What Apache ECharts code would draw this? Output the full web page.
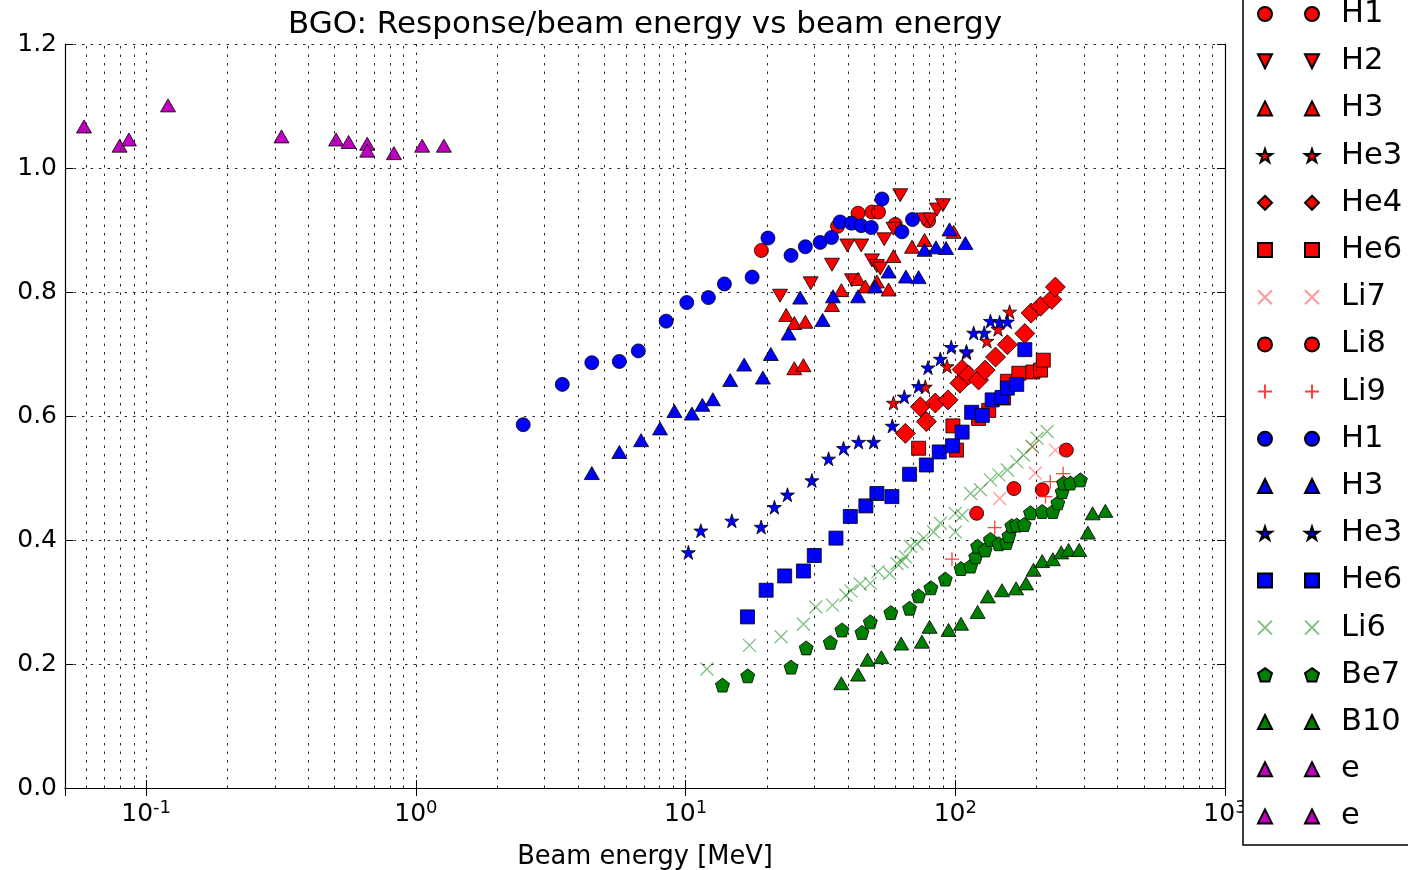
<!DOCTYPE html>
<html><head><meta charset="utf-8">
<script src="https://cdn.jsdelivr.net/npm/echarts@6/dist/echarts.min.js"></script>
<style>html,body{margin:0;padding:0;background:#fff}#c{width:1408px;height:870px}</style>
</head><body><div id="c"></div>
<script>
// ---------------- data (beam energy [MeV], response/beam energy) ----------------
const h1Red = [[19.1,0.867],[36.6,0.906],[43.6,0.927],[49.1,0.929],[51.9,0.929],[59.9,0.909],[79.6,0.915]];
const h2Red = [[22.4,0.794],[29.1,0.814],[34.9,0.844],[39.8,0.875],[44.8,0.875],[41.4,0.819],[49.1,0.851],[51.2,0.842],[52.7,0.838],[54.5,0.885],[59.0,0.902],[62.5,0.956],[76.3,0.917],[80.8,0.917],[85.5,0.933],[90.0,0.940]];
const h3Red = [[23.6,0.763],[25.3,0.750],[27.8,0.752],[25.3,0.677],[27.35,0.682],[34.9,0.779],[37.8,0.803],[43.6,0.821],[46.4,0.809],[51.2,0.817],[56.6,0.804],[59.0,0.858],[69.1,0.873],[76.9,0.884],[98.6,0.897]];
const he3Red = [[59.0,0.621],[77.4,0.647],[93.2,0.680],[110,0.702],[131,0.721],[144,0.740],[159,0.768]];
const he4Red = [[65.3,0.572],[78.1,0.591],[74.2,0.615],[84.3,0.621],[94.0,0.626],[104,0.653],[106,0.675],[112,0.666],[122,0.658],[129,0.674],[141,0.695],[156,0.715],[181,0.733],[191,0.766],[207,0.777],[228,0.788],[235,0.808]];
const he6Red = [[73.1,0.548],[98.0,0.584],[101,0.545],[122,0.596],[133,0.609],[151,0.629],[156,0.656],[172,0.669],[194,0.671],[207,0.674],[212,0.690]];
const li7Red = [[146,0.467],[198,0.508],[193,0.550],[235,0.545]];
const li8Red = [[120,0.443],[165,0.483],[210,0.481],[258,0.545]];
const li9Red = [[97.2,0.369],[140,0.420],[216,0.470],[225,0.494],[251,0.507]];
const h1Blue = [[2.50,0.586],[3.49,0.651],[4.49,0.686],[5.68,0.688],[6.68,0.705],[8.47,0.753],[10.1,0.783],[12.15,0.791],[13.93,0.813],[17.65,0.824],[20.2,0.887],[24.6,0.859],[27.8,0.873],[31.55,0.880],[34.75,0.888],[37.4,0.913],[41.2,0.911],[44.8,0.907],[48.8,0.904],[53.5,0.950],[63.4,0.897],[69.4,0.917]];
const h3Blue = [[4.49,0.508],[5.68,0.542],[6.84,0.561],[8.04,0.580],[9.09,0.608],[10.55,0.604],[11.54,0.618],[12.62,0.627],[14.63,0.658],[16.49,0.683],[19.34,0.662],[20.7,0.700],[24.1,0.733],[26.6,0.791],[32.2,0.755],[35.2,0.793],[43.6,0.793],[50.5,0.809],[56.6,0.833],[65.6,0.825],[73.1,0.824],[76.9,0.868],[84.8,0.872],[92.4,0.871],[95.2,0.901],[109,0.879]];
const he3Blue = [[10.24,0.380],[11.39,0.415],[14.84,0.431],[19.06,0.421],[21.35,0.453],[23.86,0.473],[29.4,0.496],[33.9,0.531],[38.5,0.548],[43.8,0.558],[49.8,0.558],[58.4,0.584],[64.7,0.631],[73.1,0.648],[79.2,0.678],[88.0,0.692],[96.6,0.711],[110,0.704],[117,0.734],[128,0.734],[135,0.753],[146,0.751],[156,0.752]];
const he6Blue = [[16.96,0.276],[19.89,0.319],[23.3,0.342],[27.35,0.350],[30.0,0.375],[36.1,0.403],[40.8,0.438],[46.6,0.455],[51.2,0.475],[58.2,0.470],[67.7,0.506],[78.1,0.521],[87.2,0.542],[97.7,0.552],[106,0.574],[115,0.606],[126,0.601],[137,0.626],[149,0.630],[156,0.645],[169,0.651],[181,0.707]];
const li6Green = [[12.0,0.192],[17.25,0.230],[22.6,0.244],[27.35,0.264],[30.4,0.292],[35.05,0.295],[39.3,0.311],[41.0,0.318],[44.4,0.329],[48.4,0.330],[51.7,0.349],[57.1,0.346],[60.8,0.362],[63.4,0.365],[65.3,0.373],[68.1,0.390],[72.1,0.394],[76.3,0.403],[83.1,0.413],[88.0,0.427],[100,0.443],[100,0.413],[106,0.440],[114,0.475],[124,0.481],[135,0.497],[145,0.505],[156,0.513],[169,0.526],[179,0.537],[193,0.551],[201,0.564],[219,0.575]];
const be7Green = [[13.7,0.166],[17.0,0.181],[24.6,0.195],[28.0,0.226],[34.4,0.235],[38.0,0.255],[45.1,0.251],[48.4,0.268],[57.7,0.283],[67.7,0.290],[73.1,0.310],[81.2,0.323],[91.8,0.337],[105,0.354],[114,0.358],[119,0.373],[121,0.390],[129,0.384],[135,0.401],[145,0.394],[155,0.396],[158,0.407],[162,0.423],[169,0.424],[180,0.425],[190,0.444],[210,0.446],[230,0.446],[240,0.460],[249,0.478],[252,0.492],[267,0.492],[291,0.497]];
const b10Green = [[37.8,0.169],[43.6,0.183],[47.3,0.207],[53.2,0.211],[63.0,0.233],[75.2,0.236],[80.3,0.260],[94.4,0.255],[105,0.265],[121,0.284],[132,0.309],[149,0.319],[168,0.322],[183,0.330],[195,0.352],[210,0.366],[230,0.369],[247,0.380],[263,0.384],[288,0.384],[310,0.412],[323,0.443],[360,0.447]];
const eA = [[0.0588,1.067],[0.0797,1.036],[0.0863,1.046],[0.1205,1.101]];
const eB = [[0.3175,1.051],[0.506,1.046],[0.563,1.042],[0.66,1.039],[0.66,1.028],[0.829,1.024],[1.055,1.036],[1.27,1.036]];

const legendLabels = ['H1','H2','H3','He3','He4','He6','Li7','Li8','Li9','H1','H3','He3','He6','Li6','Be7','B10','e','e'];
const titleText = 'BGO: Response/beam energy vs beam energy';
const xName = 'Beam energy [MeV]';

// ---------------- styling ----------------
const FONT = 'DejaVu Sans';
const RED = '#ff0000', BLUE = '#0000ff', GREEN = '#008000', MAG = '#bf00bf';
const SYM = {
  circle: 'circle',
  up: 'triangle',
  down: 'path://M0,0 L20,0 L10,20 Z',
  star: 'path://M100,0 L122.45,69.1 L195.11,69.1 L136.33,111.8 L158.78,180.9 L100,138.2 L41.22,180.9 L63.67,111.8 L4.89,69.1 L77.55,69.1 Z',
  diamond: 'diamond',
  square: 'rect',
  pent: 'path://M100,0 L195.11,69.1 L158.78,180.9 L41.22,180.9 L4.89,69.1 Z',
  x: 'path://M0,0 L10,10 M10,0 L0,10',
  plus: 'path://M5,0 L5,10 M0,5 L10,5'
};
function filled(color) { return {color: color, borderColor: '#000', borderWidth: 0.8, opacity: 1}; }
function lined(color) { return {color: 'rgba(0,0,0,0)', borderColor: color, borderWidth: 1.3, opacity: 1}; }

const seriesDefs = [
  [h1Red, SYM.circle, 14, filled(RED)],
  [h2Red, SYM.down, [15,13], filled(RED)],
  [h3Red, SYM.up, [15,13], filled(RED)],
  [he3Red, SYM.star, 14, filled(RED)],
  [he4Red, SYM.diamond, 20, filled(RED)],
  [he6Red, SYM.square, 14, filled(RED)],
  [li7Red, SYM.x, 13, lined('rgba(255,0,0,0.4)')],
  [li8Red, SYM.circle, 14, filled(RED)],
  [li9Red, SYM.plus, 14, lined('rgba(255,30,30,0.85)')],
  [h1Blue, SYM.circle, 14, filled(BLUE)],
  [h3Blue, SYM.up, [15,13], filled(BLUE)],
  [he3Blue, SYM.star, 14, filled(BLUE)],
  [he6Blue, SYM.square, 14, filled(BLUE)],
  [li6Green, SYM.x, 13, lined('rgba(0,128,0,0.5)')],
  [be7Green, SYM.pent, 14, filled(GREEN)],
  [b10Green, SYM.up, [15,13], filled(GREEN)],
  [eA, SYM.up, [15,13], filled(MAG)],
  [eB, SYM.up, [15,13], filled(MAG)]
];
const seriesNames = legendLabels.map((l, i) => 's' + i);
const labelOf = {};
seriesNames.forEach((n, i) => { labelOf[n] = legendLabels[i]; });

// minor vertical grid positions (2..9 x each decade)
const minorX = [];
[0.01, 0.1, 1, 10, 100].forEach(d => { for (let k = 2; k <= 9; k++) { const v = d * k; if (v > 0.0501 && v < 1000) minorX.push(v); } });

const DOT = [2.5, 6];
const series = [{
  type: 'scatter', name: '_grid', data: [], z: 1, silent: true,
  markLine: {silent: true, symbol: ['none','none'], label: {show: false}, animation: false,
    lineStyle: {type: DOT, color: '#000', width: 1, opacity: 0.85},
    emphasis: {disabled: true},
    data: minorX.map(v => ({xAxis: v}))}
}];
seriesDefs.forEach((d, i) => {
  series.push({type: 'scatter', name: seriesNames[i], data: d[0], symbol: d[1], symbolSize: d[2],
    itemStyle: d[3], z: 3, emphasis: {disabled: true}});
});

function logLabel(v) {
  const e = Math.log10(v);
  const r = Math.round(e);
  if (Math.abs(e - r) > 1e-6) return '';
  return '{b|10}{s|' + (r < 0 ? '-' + (-r) : r) + '}';
}

const legendBase = {
  orient: 'vertical', top: -4, padding: 0, itemWidth: 14, itemHeight: 14, itemGap: 11.2,
  selectedMode: false, data: seriesNames, z: 5
};

const option = {
  animation: false,
  backgroundColor: '#fff',
  title: {text: titleText, left: 645, top: 9, textAlign: 'center', padding: 0,
    textStyle: {fontFamily: FONT, fontSize: 31, fontWeight: 'normal', color: '#000'}},
  grid: {left: 65, right: 183, top: 44, bottom: 82, containLabel: false, outerBoundsMode: 'none'},
  xAxis: [{
    type: 'log', logBase: 10, min: 0.05, max: 1000, position: 'bottom',
    axisLine: {show: true, lineStyle: {color: '#000', width: 1.2}},
    axisTick: {show: true, inside: true, length: 8, lineStyle: {color: '#000'}},
    axisLabel: {formatter: logLabel, margin: 11, color: '#000',
      rich: {b: {fontFamily: FONT, fontSize: 25, color: '#000', lineHeight: 30},
             s: {fontFamily: FONT, fontSize: 18, color: '#000', verticalAlign: 'top', lineHeight: 18}}},
    splitLine: {show: true, lineStyle: {type: DOT, color: '#000', width: 1, opacity: 0.85}},
    name: xName, nameLocation: 'middle', nameGap: 56,
    nameTextStyle: {fontFamily: FONT, fontSize: 25.7, color: '#000'}
  }, {
    type: 'log', logBase: 10, min: 0.05, max: 1000, position: 'top',
    axisLine: {show: true, lineStyle: {color: '#000', width: 1.2}},
    axisTick: {show: true, inside: true, length: 8, lineStyle: {color: '#000'}},
    axisLabel: {show: false}, splitLine: {show: false}
  }],
  yAxis: [{
    type: 'value', min: 0, max: 1.2, interval: 0.2, position: 'left',
    axisLine: {show: true, lineStyle: {color: '#000', width: 1.2}},
    axisTick: {show: true, inside: true, length: 8, lineStyle: {color: '#000'}},
    axisLabel: {formatter: v => v.toFixed(1), margin: 8, color: '#000', fontFamily: FONT, fontSize: 25},
    splitLine: {show: true, lineStyle: {type: DOT, color: '#000', width: 1, opacity: 0.85}}
  }, {
    type: 'value', min: 0, max: 1.2, interval: 0.2, position: 'right',
    axisLine: {show: true, lineStyle: {color: '#000', width: 1.2}},
    axisTick: {show: true, inside: true, length: 8, lineStyle: {color: '#000'}},
    axisLabel: {show: false}, splitLine: {show: false}
  }],
  legend: [
    Object.assign({}, legendBase, {left: 1257, formatter: () => ' ',
      textStyle: {fontFamily: FONT, fontSize: 30.5, lineHeight: 36, color: '#000'}}),
    Object.assign({}, legendBase, {left: 1304, formatter: n => labelOf[n],
      textStyle: {fontFamily: FONT, fontSize: 30.5, lineHeight: 36, color: '#000', padding: [0,0,0,17]}})
  ],
  graphic: {elements: [{type: 'rect', z: 3, silent: true,
    shape: {x: 1243, y: -10, width: 200, height: 855},
    style: {fill: '#fff', stroke: '#000', lineWidth: 1.5}}]},
  series: series
};

const chart = echarts.init(document.getElementById('c'), null, {renderer: 'canvas'});
chart.setOption(option);
</script>
</body></html>
